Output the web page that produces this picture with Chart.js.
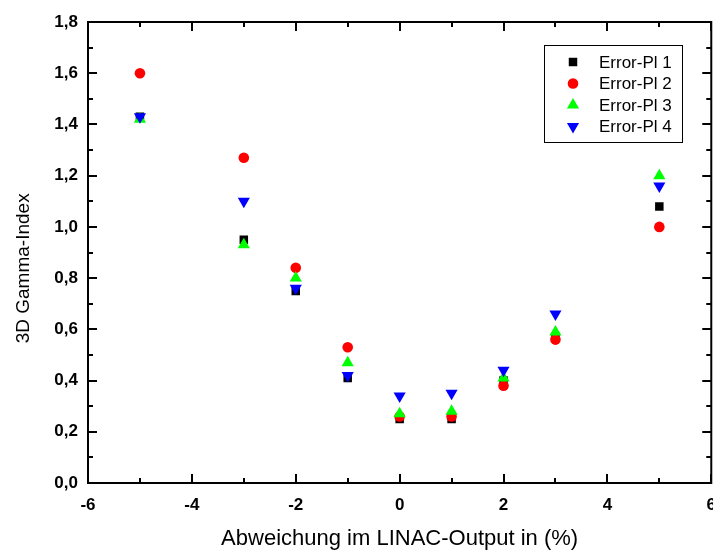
<!DOCTYPE html>
<html>
<head>
<meta charset="utf-8">
<script src="https://cdn.jsdelivr.net/npm/chart.js"></script>
<style>
  html, body { margin: 0; padding: 0; background: #fff; overflow: hidden; }
  canvas { display: block; }
</style>
</head>
<body>
<canvas id="gamma" width="728" height="550"></canvas>
<script>
// Abweichung im LINAC-Output (%)
const deviations = [-5, -3, -2, -1, 0, 1, 2, 3, 5]

// 3D Gamma-Index je Plan
const errorPl1 = [1.43, 0.95, 0.75, 0.41, 0.25, 0.25, 0.40, 0.57, 1.08]
const errorPl2 = [1.60, 1.27, 0.84, 0.53, 0.26, 0.26, 0.38, 0.56, 1.00]
const errorPl3 = [1.42, 0.93, 0.80, 0.47, 0.27, 0.28, 0.41, 0.59, 1.20]
const errorPl4 = [1.43, 1.10, 0.76, 0.42, 0.34, 0.35, 0.44, 0.66, 1.16]

const seriesNames = ["Error-Pl 1", "Error-Pl 2", "Error-Pl 3", "Error-Pl 4"]
const seriesValues = [errorPl1, errorPl2, errorPl3, errorPl4]

// Achsen
const xMin = -6, xMax = 6, xStep = 2
const yMin = 0, yMax = 1.8, yStep = 0.2

const FONT = "'Liberation Sans', Arial, sans-serif"

// Marker je Serie: Quadrat, Kreis, Dreieck, Dreieck nach unten
const markers = [
  { color: "#000000", pointStyle: "rect", radius: 6, rotation: 0 },
  { color: "#ff0000", pointStyle: "circle", radius: 5.3, rotation: 0 },
  { color: "#00ff00", pointStyle: "triangle", radius: 7, rotation: 0 },
  { color: "#0000ff", pointStyle: "triangle", radius: 7, rotation: 180 },
]

// Rahmen mit nach innen zeigenden Haupt- und Nebenstrichen auf allen vier Seiten
const framePlugin = {
  id: "frame",
  beforeDatasetsDraw(chart) {
    const { ctx, chartArea: a, scales } = chart
    const major = 9, minor = 5
    ctx.save()
    ctx.strokeStyle = "#000"
    ctx.lineWidth = 2
    ctx.strokeRect(a.left, a.top, a.right - a.left, a.bottom - a.top)
    ctx.beginPath()
    for (let v = xMin; v <= xMax; v += xStep / 2) {
      const px = Math.round(scales.x.getPixelForValue(v))
      const len = v % xStep === 0 ? major : minor
      ctx.moveTo(px, a.bottom); ctx.lineTo(px, a.bottom - len)
      ctx.moveTo(px, a.top); ctx.lineTo(px, a.top + len)
    }
    for (let i = 0; i <= Math.round((yMax - yMin) / (yStep / 2)); i++) {
      const v = yMin + i * yStep / 2
      const py = Math.round(scales.y.getPixelForValue(v))
      const len = i % 2 === 0 ? major : minor
      ctx.moveTo(a.left, py); ctx.lineTo(a.left + len, py)
      ctx.moveTo(a.right, py); ctx.lineTo(a.right - len, py)
    }
    ctx.stroke()
    ctx.restore()
  },
  // Legende im Diagramm oben rechts
  afterDraw(chart) {
    const { ctx } = chart
    const box = { x: 544, y: 45, w: 138, h: 97 }
    ctx.save()
    ctx.fillStyle = "#fff"
    ctx.fillRect(box.x, box.y, box.w, box.h)
    ctx.strokeStyle = "#000"
    ctx.lineWidth = 1
    ctx.strokeRect(box.x + 0.5, box.y + 0.5, box.w, box.h)
    ctx.font = "17px " + FONT
    ctx.textBaseline = "middle"
    seriesNames.forEach((name, i) => {
      const cy = box.y + 17 + i * 21.5
      const m = markers[i]
      ctx.fillStyle = m.color
      Chart.helpers.drawPoint(ctx, { pointStyle: m.pointStyle, radius: m.radius, rotation: m.rotation, borderWidth: 0 }, box.x + 29, cy)
      ctx.fillStyle = "#000"
      ctx.fillText(name, box.x + 55, cy + 1)
    })
    ctx.restore()
  },
}

new Chart(document.getElementById("gamma"), {
  type: "scatter",
  data: {
    datasets: seriesValues.map((values, i) => ({
      label: seriesNames[i],
      data: deviations.map((x, k) => ({ x, y: values[k] })),
      backgroundColor: markers[i].color,
      borderColor: markers[i].color,
      borderWidth: 0,
      pointStyle: markers[i].pointStyle,
      pointRadius: markers[i].radius,
      pointRotation: markers[i].rotation,
      // später gezeichnete Serie liegt oben
      order: seriesValues.length - i,
    })),
  },
  options: {
    responsive: false,
    animation: false,
    layout: { padding: { top: 22, left: 0, right: 0, bottom: 0 } },
    plugins: {
      legend: { display: false },
      tooltip: { enabled: false },
    },
    scales: {
      x: {
        type: "linear",
        min: xMin,
        max: xMax,
        grid: { display: false, drawTicks: false },
        border: { display: false },
        ticks: {
          stepSize: xStep,
          padding: 12,
          color: "#000",
          font: { family: FONT, size: 17, weight: "bold" },
          callback: (v) => String(v),
        },
        title: {
          display: true,
          text: "Abweichung im LINAC-Output in (%)",
          color: "#000",
          padding: 0,
          font: { family: FONT, size: 22, lineHeight: 1 },
        },
        afterFit(scale) { scale.height = 67 },
      },
      y: {
        min: yMin,
        max: yMax,
        grid: { display: false, drawTicks: false },
        border: { display: false },
        ticks: {
          stepSize: yStep,
          padding: 10,
          color: "#000",
          font: { family: FONT, size: 17, weight: "bold" },
          callback: (v) => v.toFixed(1).replace(".", ","),
        },
        title: {
          display: true,
          // Leerzeichen am Ende verschieben den Titel etwas nach unten
          text: "3D Gamma-Index" + "\u00a0".repeat(6),
          color: "#000",
          padding: { top: 14, bottom: 0 },
          font: { family: FONT, size: 19, lineHeight: 1 },
        },
        afterFit(scale) { scale.width = 88 },
      },
    },
  },
  plugins: [framePlugin],
})
</script>
</body>
</html>
